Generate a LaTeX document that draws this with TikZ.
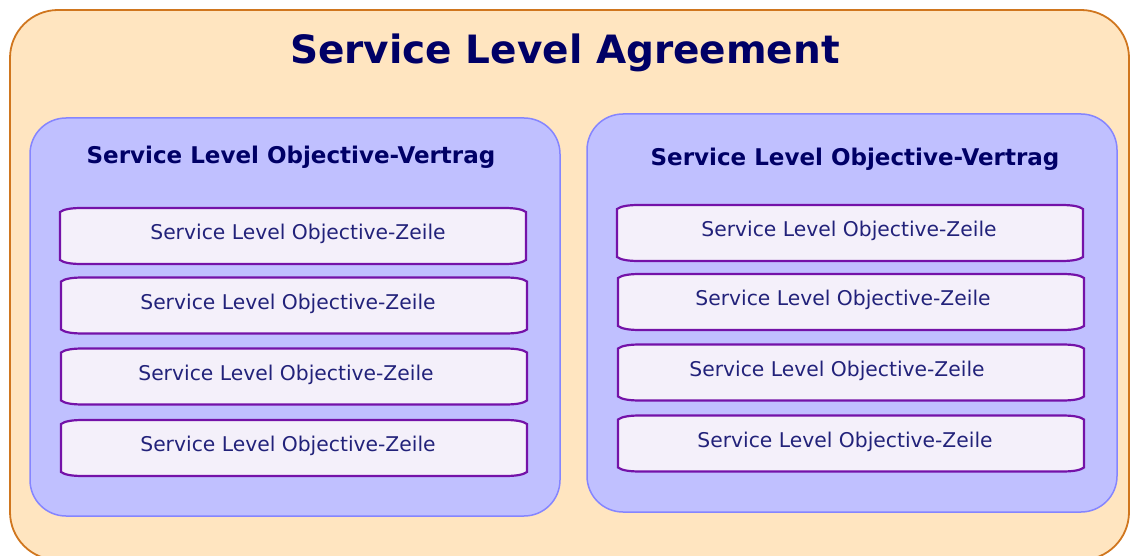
\documentclass[tikz,border=0pt]{standalone}
\usepackage{fontspec}
\setmainfont{DejaVu Sans}

\definecolor{slafill}{HTML}{FFE5C0}
\definecolor{sladraw}{HTML}{D0761E}
\definecolor{slofill}{HTML}{C0C0FF}
\definecolor{slodraw}{HTML}{8585FF}
\definecolor{zeilefill}{HTML}{F4F0FA}
\definecolor{zeiledraw}{HTML}{7412A8}
\definecolor{titlecol}{HTML}{000066}
\definecolor{zeiletext}{HTML}{22227A}

\tikzset{
  slabox/.style={draw=sladraw,fill=slafill,line width=1.8pt,rounded corners=48pt},
  slobox/.style={draw=slodraw,fill=slofill,line width=1.5pt,rounded corners=36pt,
    minimum width=530pt,minimum height=398pt,inner sep=0pt},
  zeilerand/.style={draw=zeiledraw,fill=zeilefill,line width=2.2pt},
  zeilelabel/.style={text=zeiletext,inner sep=0pt,font=\fontsize{20.3}{22}\selectfont},
  slotitle/.style={text=titlecol,font=\fontsize{23}{26}\bfseries\selectfont},
}

% Zeile: Name, Mitte der Form, Verschiebung des Textes
\newcommand\zeile[3]{
  \draw[zeilerand] (#2) ++(-233,-24) .. controls +(4,-3) and +(-10,0) .. ++(22,-4)
     -- ++(422,0) .. controls +(10,0) and +(-4,-3) .. ++(22,4)
     -- ++(0,48) .. controls +(-4,3) and +(10,0) .. ++(-22,4)
     -- ++(-422,0) .. controls +(-10,0) and +(4,3) .. ++(-22,-4) -- cycle;
  \node[zeilelabel,xshift=#3,yshift=2pt] (#1) at (#2) {Service Level Objective-Zeile};
}

\begin{document}
\begin{tikzpicture}[x=1pt,y=-1pt]
            \useasboundingbox (0,0) rectangle (1131,556);
            \clip (0,0) rectangle (1131,556);
            \draw[slabox] (10,10) rectangle (1129,560);
            \node[text=titlecol,font=\fontsize{39}{44}\bfseries\selectfont] (sla) at (565,53)
                {Service Level Agreement};
            % linker Vertrag
            \node[slobox] (slvleft) at (295,317) {};
            \node[slotitle] (titleleft) at (291,157) {Service Level Objective-Vertrag};
            \zeile{l1}{293,236}{5pt}
            \zeile{l2}{294,305.5}{-6pt}
            \zeile{l3}{294,376.5}{-8pt}
            \zeile{l4}{294,448}{-6pt}
            % rechter Vertrag
            \node[slobox] (slvright) at (852,313) {};
            \node[slotitle] (titleright) at (855,159) {Service Level Objective-Vertrag};
            \zeile{r1}{850,233}{-1pt}
            \zeile{r2}{851,302}{-8pt}
            \zeile{r3}{851,372.5}{-14pt}
            \zeile{r4}{851,443.5}{-6pt}
\end{tikzpicture}
\end{document}
